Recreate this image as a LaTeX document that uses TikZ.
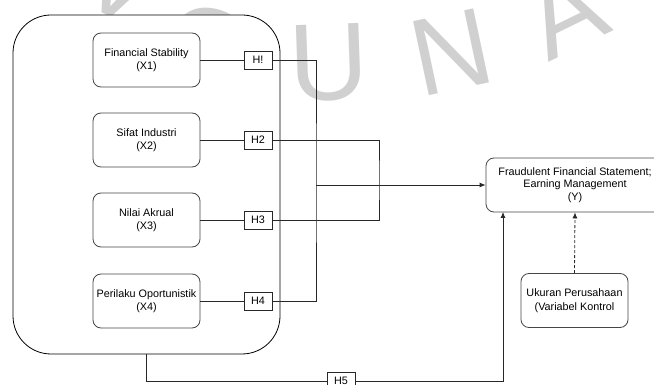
\documentclass[tikz,border=0pt]{standalone}
\usepackage{fontspec}
\setmainfont{Liberation Sans}
\usetikzlibrary{arrows.meta}
\definecolor{wmgray}{RGB}{208,208,208}
\definecolor{linecol}{RGB}{40,40,40}
\definecolor{boxcol}{RGB}{70,70,70}
\begin{document}
\begin{tikzpicture}[x=1pt,y=-1pt,
  wm/.style={text=wmgray, font=\fontsize{110}{110}\selectfont, inner sep=0pt},
  group/.style={draw=black, line width=0.8pt, rounded corners=38pt, fill=white},
  var/.style={draw=boxcol, line width=0.8pt, rounded corners=8pt, fill=white,
    minimum width=107pt, minimum height=54pt, align=center, inner sep=1pt,
    font=\fontsize{10.8}{13.5}\selectfont},
  depvar/.style={var, minimum width=178pt, font=\fontsize{10.8}{12.5}\selectfont},
  hyp/.style={draw=linecol, line width=0.8pt, fill=white, minimum width=28pt,
    minimum height=18pt, inner sep=0pt, font=\fontsize{10.8}{12}\selectfont},
  conn/.style={draw=linecol, line width=0.8pt},
  arr/.style={conn, -{Latex[length=6pt,width=5pt]}}]
\useasboundingbox (0,0) rectangle (654,385);
% watermark
\node[wm, rotate=-25] (wmA) at (123,-19) {V};
\node[wm, rotate=-12] (wmB) at (208,47) {O};
\node[wm, rotate=2] (wmC) at (329,63) {U};
\node[wm, rotate=12] (wmD) at (451,52) {N};
\node[wm, rotate=26] (wmE) at (565,12) {A};
% group box
\node[group, minimum width=267pt, minimum height=339pt] (grp) at (146.5,184.5) {};
% variables
\node[var] (x1) at (146.5,60) {Financial Stability\\(X1)};
\node[var] (x2) at (146.5,140) {Sifat Industri\\(X2)};
\node[var] (x3) at (146.5,220) {Nilai Akrual\\(X3)};
\node[var] (x4) at (146.5,301) {Perilaku Oportunistik\\(X4)};
\node[depvar] (y) at (575,185) {Fraudulent Financial Statement;\\Earning Management\\(Y)};
\node[var] (u) at (574.5,300.5) {Ukuran Perusahaan\\(Variabel Kontrol};
% hypotheses
\node[hyp] (h1) at (258,60) {H!};
\node[hyp] (h2) at (258,140) {H2};
\node[hyp] (h3) at (258,220) {H3};
\node[hyp] (h4) at (258,301) {H4};
\node[hyp] (h5) at (341,381) {H5};
% junctions
\coordinate (jA) at (316,185);
\coordinate (jB) at (379,180);
\coordinate (yin) at (503,212);
% connectors
\draw[conn] (x1) -- (h1);
\draw[conn] (x2) -- (h2);
\draw[conn] (x3) -- (h3);
\draw[conn] (x4) -- (h4);
\draw[conn] (h1.east) -| (jA) |- (h4.east);
\draw[conn] (h2.east) -| (jB) |- (h3.east);
\draw[arr] (jA) -- (y.west);
\draw[conn] (grp.south) |- (h5.west);
\draw[arr] (h5.east) -| (yin);
\draw[arr, dash pattern=on 3pt off 2pt] (u.north) -- (y.south);
\end{tikzpicture}
\end{document}
